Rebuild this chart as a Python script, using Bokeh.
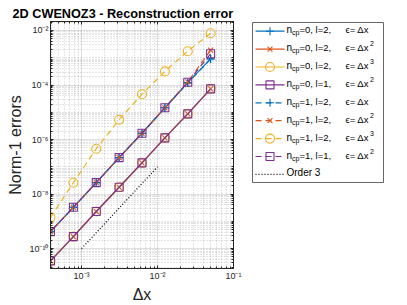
from bokeh.plotting import figure
from bokeh.models import Range1d, FixedTicker, CustomJSTickFormatter, LogAxis
from bokeh.layouts import row, column
from bokeh.embed import file_html
from bokeh.resources import INLINE
from bokeh.core.properties import value

# ---------------- data ----------------
dx = [0.05, 0.025, 0.0125, 0.00625, 0.003125, 0.0015625, 0.00078125, 0.000390625]

err_ncp0_l2_dx  = [9.1e-4, 1.22e-4, 1.46e-5, 1.70e-6, 2.18e-7, 2.64e-8, 3.27e-9, 4.21e-10]
err_ncp0_l2_dx2 = [7.24e-5, 8.77e-6, 1.15e-6, 1.40e-7, 1.78e-8, 2.29e-9, 2.75e-10, 3.55e-11]
err_ncp0_l2_dx3 = [7.24e-5, 8.77e-6, 1.15e-6, 1.40e-7, 1.78e-8, 2.29e-9, 2.75e-10, 3.55e-11]
err_ncp0_l1_dx2 = [7.24e-5, 8.77e-6, 1.15e-6, 1.40e-7, 1.78e-8, 2.29e-9, 2.75e-10, 3.55e-11]
err_ncp1_l2_dx  = [9.0e-4, 1.20e-4, 1.46e-5, 1.70e-6, 2.18e-7, 2.64e-8, 3.27e-9, 4.21e-10]
err_ncp1_l2_dx2 = [1.9e-3, 1.30e-4, 1.46e-5, 1.70e-6, 2.18e-7, 2.64e-8, 3.27e-9, 4.21e-10]
err_ncp1_l2_dx3 = [7.9e-3, 1.74e-3, 3.16e-4, 4.6e-5, 5.3e-6, 4.6e-7, 2.6e-8, 1.4e-9]
err_ncp1_l1_dx2 = [1.40e-3, 1.27e-4, 1.46e-5, 1.70e-6, 2.18e-7, 2.64e-8, 3.27e-9, 4.21e-10]

order_dx  = [1e-3, 1e-2]
order_err = [1e-10, 1e-7]

ncp_labels = ["0", "0", "0", "0", "1", "1", "1", "1"]
l_labels   = ["2", "2", "2", "1", "2", "2", "2", "1"]
eps_pow    = ["", "2", "3", "2", "", "2", "3", "2"]

x_major = [1e-3, 1e-2, 1e-1]
y_major = [1e-10, 1e-8, 1e-6, 1e-4, 1e-2]

TITLE = "2D CWENOZ3 - Reconstruction error"

BLUE, RED, YEL, PUR = "#0072BD", "#D95319", "#EDB120", "#7E2F8E"
AX = "#262626"
FONT = "Liberation Sans"

series = [
    (err_ncp0_l2_dx,  BLUE, "cross",  8, "solid"),
    (err_ncp0_l2_dx2, RED,  "x",      7, "solid"),
    (err_ncp0_l2_dx3, YEL,  "circle", 9, "solid"),
    (err_ncp0_l1_dx2, PUR,  "square", 8, "solid"),
    (err_ncp1_l2_dx,  BLUE, "cross",  8, "6 4"),
    (err_ncp1_l2_dx2, RED,  "x",      7, "6 4"),
    (err_ncp1_l2_dx3, YEL,  "circle", 9, "6 4"),
    (err_ncp1_l1_dx2, PUR,  "square", 8, "6 4"),
]

def bare(fig):
    fig.grid.visible = False
    fig.outline_line_color = None
    fig.background_fill_color = "white"
    fig.border_fill_color = "white"

# ---------------- title strip ----------------
TH = 21
tf = figure(width=407, height=TH, x_range=Range1d(0, 407), y_range=Range1d(TH, 0),
            output_backend="svg", toolbar_location=None,
            x_axis_location=None, y_axis_location=None,
            min_border_left=0, min_border_right=0, min_border_top=0, min_border_bottom=0)
bare(tf)
tf.text([12], [13.5], text=[TITLE], text_font=value(FONT), text_font_size="12.7px",
        text_font_style="bold", text_baseline="alphabetic", text_color="black")

# ---------------- main plot ----------------
MW, MH = 244, 305 - TH
p = figure(width=MW, height=MH, x_axis_type="log", y_axis_type="log",
           x_range=Range1d(0.000390625, 0.1), y_range=Range1d(10**-10.73, 10**-1.67),
           output_backend="svg", toolbar_location=None,
           min_border_left=50, min_border_right=11, min_border_top=0, min_border_bottom=37)
p.title = None
p.background_fill_color = "white"
p.border_fill_color = "white"
p.outline_line_color = AX
p.outline_line_width = 1

fmt = CustomJSTickFormatter(code="""
const sup = {"-":"\u207B","0":"\u2070","1":"\u00B9","2":"\u00B2","3":"\u00B3","4":"\u2074",
             "5":"\u2075","6":"\u2076","7":"\u2077","8":"\u2078","9":"\u2079"};
const e = Math.round(Math.log10(tick));
return "10" + String(e).split("").map(c => sup[c]).join("");
""")
blank = CustomJSTickFormatter(code="return ''")

x_minor = [m * 10.0**k for k in range(-4, -1) for m in range(2, 10)]
y_minor = [m * 10.0**k for k in range(-11, -1) for m in range(1, 10) if not (m == 1 and k % 2 == 0)]
xt = FixedTicker(ticks=x_major, minor_ticks=x_minor)
yt = FixedTicker(ticks=y_major, minor_ticks=y_minor)

def style_axis(ax, labels=True):
    ax.axis_line_color = AX
    ax.major_tick_line_color = AX
    ax.minor_tick_line_color = AX
    ax.major_tick_in = 3
    ax.major_tick_out = 0
    ax.minor_tick_in = 2
    ax.minor_tick_out = 0
    ax.major_label_text_font = FONT
    ax.major_label_text_color = AX
    if labels:
        ax.major_label_text_font_size = "9px"
        ax.major_label_standoff = 2
        ax.axis_label_text_font = FONT
        ax.axis_label_text_font_size = "16px"
        ax.axis_label_text_font_style = "normal"
        ax.axis_label_text_color = AX
        ax.axis_label_standoff = 2
    else:
        ax.major_label_text_font_size = "1px"
        ax.major_label_standoff = 0

p.xaxis.ticker = xt
p.yaxis.ticker = yt
p.xaxis.formatter = fmt
p.yaxis.formatter = fmt
p.xaxis.axis_label = "\u0394x"
p.yaxis.axis_label = "Norm-1 errors"
style_axis(p.xaxis[0])
style_axis(p.yaxis[0])

top = LogAxis(ticker=xt, formatter=blank)
right = LogAxis(ticker=yt, formatter=blank)
style_axis(top, labels=False)
style_axis(right, labels=False)
p.add_layout(top, "above")
p.add_layout(right, "right")

for g in p.xgrid + p.ygrid:
    g.grid_line_color = AX
    g.grid_line_alpha = 0.15
    g.minor_grid_line_color = AX
    g.minor_grid_line_alpha = 0.25
    g.minor_grid_line_dash = "1 2"

for ys, col, mk, sz, dash in series:
    p.line(dx, ys, line_color=col, line_width=1.2, line_dash=dash)
    p.scatter(dx, ys, marker=mk, size=sz, line_color=col, fill_color=None, line_width=1.1)

p.line(order_dx, order_err, line_color="black", line_width=1.2, line_dash="1 2")

# ---------------- legend panel (page-pixel coordinates) ----------------
LW = 407 - MW
lg = figure(width=LW, height=MH, x_range=Range1d(MW, 407), y_range=Range1d(268, TH),
            output_backend="svg", toolbar_location=None,
            x_axis_location=None, y_axis_location=None,
            min_border_left=0, min_border_right=0, min_border_top=0, min_border_bottom=37)
bare(lg)
lg.quad(left=[252], right=[383], top=[22], bottom=[182], fill_color="white",
        line_color="#404040", line_width=0.8)

TY = -1.5  # text vertical nudge
rows_y = [30.7 + 17.9 * i for i in range(9)]
for i, (ys, col, mk, sz, dash) in enumerate(series):
    y = rows_y[i]
    lg.line([255, 284], [y, y], line_color=col, line_width=1.2, line_dash=dash)
    lg.scatter([269.5], [y], marker=mk, size=sz, line_color=col, fill_color=None, line_width=1.1)
    lg.text([286], [y + TY], text=["n"], text_font=value(FONT), text_font_size="10px",
            text_baseline="middle", text_color="black")
    lg.text([291.5], [y + TY + 3.2], text=["cp"], text_font=value(FONT), text_font_size="7px",
            text_baseline="middle", text_color="black")
    lg.text([299], [y + TY], text=["=%s, l=%s," % (ncp_labels[i], l_labels[i])], text_font=value(FONT),
            text_font_size="9.5px", text_baseline="middle", text_color="black")
    lg.text([345], [y + TY], text=["\u03F5= \u0394x"], text_font=value(FONT),
            text_font_size="9.5px", text_baseline="middle", text_color="black")
    if eps_pow[i]:
        lg.text([369.5], [y + TY - 4], text=[eps_pow[i]], text_font=value(FONT), text_font_size="7px",
                text_baseline="middle", text_color="black")

y9 = rows_y[8]
lg.line([255, 284], [y9, y9], line_color="black", line_width=1.2, line_dash="1 2")
lg.text([286], [y9 + TY], text=["Order 3"], text_font=value(FONT), text_font_size="10px",
        text_baseline="middle", text_color="black")

layout = column(tf, row(p, lg))
open("out.html", "w").write(file_html(layout, INLINE))
